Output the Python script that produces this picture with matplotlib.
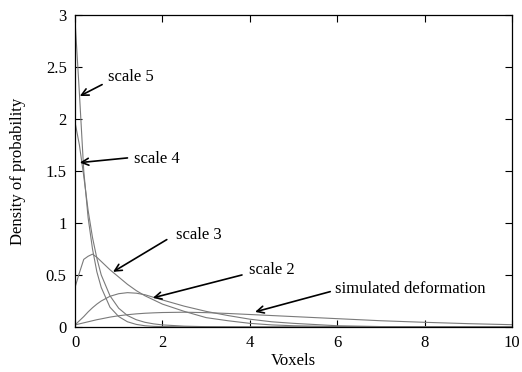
import matplotlib
matplotlib.use("Agg")
import matplotlib.pyplot as plt

plt.rcParams['font.family'] = ['Liberation Serif', 'DejaVu Serif']

# sample positions (voxels) and densities
voxels = [0, 0.1, 0.2, 0.3, 0.4, 0.5, 0.6, 0.8, 1.0, 1.2, 1.4, 1.6, 1.8, 2.0,
          2.5, 3.0, 3.5, 4.0, 4.5, 5, 6, 7, 8, 9, 10]

scale5 = [2.95, 2.25, 1.50, 1.05, 0.75, 0.53, 0.38, 0.19, 0.10, 0.05, 0.025,
          0.012, 0.006, 0.004, 0.001, 0, 0, 0, 0, 0, 0, 0, 0, 0, 0]
scale4 = [1.97, 1.75, 1.45, 1.12, 0.86, 0.66, 0.50, 0.30, 0.18, 0.11, 0.07,
          0.045, 0.03, 0.02, 0.008, 0.003, 0.001, 0, 0, 0, 0, 0, 0, 0, 0]
scale3 = [0.38, 0.52, 0.65, 0.68, 0.70, 0.67, 0.63, 0.55, 0.48, 0.41, 0.35,
          0.30, 0.26, 0.22, 0.15, 0.09, 0.06, 0.035, 0.02, 0.012, 0.004,
          0.001, 0, 0, 0]
scale2 = [0.02, 0.06, 0.10, 0.145, 0.185, 0.22, 0.25, 0.295, 0.32, 0.33,
          0.325, 0.31, 0.285, 0.26, 0.20, 0.15, 0.11, 0.075, 0.05, 0.035,
          0.012, 0.004, 0.001, 0, 0]
simulated = [0.02, 0.03, 0.04, 0.05, 0.06, 0.07, 0.078, 0.095, 0.108, 0.118,
             0.126, 0.132, 0.136, 0.139, 0.142, 0.138, 0.13, 0.12, 0.11, 0.10,
             0.08, 0.06, 0.045, 0.032, 0.022]

# label text, text anchor, arrow tail, arrow tip (data coords)
labels = ["scale 5", "scale 4", "scale 3", "scale 2", "simulated deformation"]
text_pos = [(0.76, 2.40), (1.36, 1.61), (2.30, 0.88), (3.97, 0.55), (5.95, 0.365)]
tails = [(0.62, 2.33), (1.20, 1.625), (2.10, 0.84), (3.82, 0.50), (5.84, 0.34)]
tips = [(0.11, 2.22), (0.11, 1.58), (0.87, 0.53), (1.78, 0.28), (4.12, 0.145)]

fig = plt.figure(figsize=(5.22, 3.72), dpi=100)
ax = fig.add_axes([0.1437, 0.121, 0.8373, 0.839])

for ys in [scale5, scale4, scale3, scale2, simulated]:
    ax.plot(voxels, ys, color='#7a7a7a', lw=0.8)

for lab, tp, tl, tip in zip(labels, text_pos, tails, tips):
    ax.annotate('', xy=tip, xytext=tl,
                arrowprops=dict(arrowstyle='->, head_length=0.5, head_width=0.25',
                                color='black', lw=1.2, shrinkA=0, shrinkB=0))
    ax.text(tp[0], tp[1], lab, fontsize=12, ha='left', va='center')

ax.set_xlim(0, 10)
ax.set_ylim(0, 3)
ax.set_xticks([0, 2, 4, 6, 8, 10])
ax.set_yticks([0, 0.5, 1, 1.5, 2, 2.5, 3])
ax.set_yticklabels(['0', '0.5', '1', '1.5', '2', '2.5', '3'])
ax.tick_params(direction='in', top=True, right=True, length=5, labelsize=12,
               width=0.8, pad=6)
for s in ax.spines.values():
    s.set_linewidth(0.9)

ax.set_xlabel('Voxels', fontsize=12, labelpad=1)
ax.set_ylabel('Density of probability', fontsize=12, labelpad=14)

plt.savefig('out.png', dpi=100)
plt.close()
